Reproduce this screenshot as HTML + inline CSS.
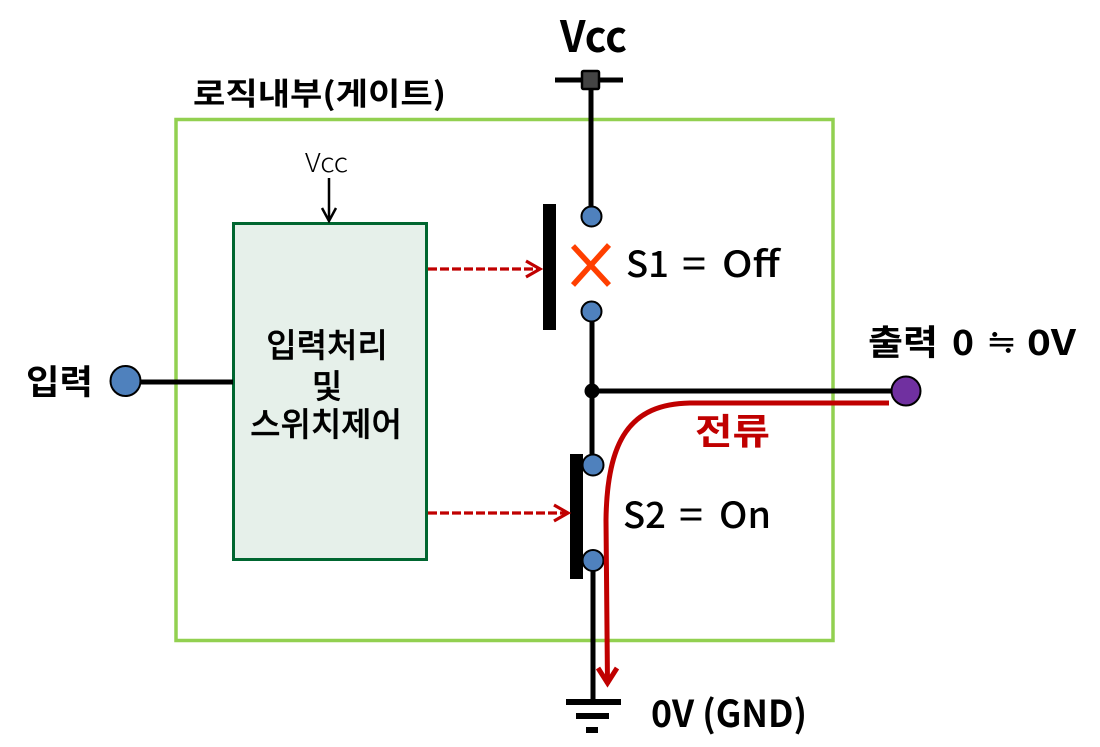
<!DOCTYPE html>
<html><head><meta charset="utf-8"><style>
html,body{margin:0;padding:0;background:#fff;width:1100px;height:747px;overflow:hidden}
svg{display:block}
text{font-family:"Noto Sans CJK KR","NanumGothic","Liberation Sans",sans-serif;fill:#000}
</style></head><body>
<svg width="1100" height="747" viewBox="0 0 1100 747" xmlns="http://www.w3.org/2000/svg">
<rect x="176" y="119.500" width="657" height="521" fill="none" stroke="#92d050" stroke-width="3.500"/>
<rect x="233.500" y="223.500" width="193" height="336" fill="#e6f0ea" stroke="#006630" stroke-width="3"/>
<g stroke="#000" stroke-width="5" fill="none">
<path d="M591 80V206"/><path d="M555 80H623"/><path d="M592 320V456"/><path d="M592 391H892"/><path d="M593 570V702"/><path d="M141 382H233"/>
</g>
<rect x="582" y="71" width="17" height="18" rx="1.500" fill="#444" stroke="#000" stroke-width="2.500"/>
<rect x="566" y="699" width="55" height="6"/><rect x="576" y="713" width="33" height="6"/><rect x="586" y="727" width="12" height="6"/>
<rect x="543" y="204" width="13" height="126"/><rect x="570" y="454" width="13" height="125"/>
<circle cx="592" cy="391" r="7.500"/>
<g fill="#4f81bd" stroke="#000" stroke-width="2">
<circle cx="591.500" cy="216.500" r="10"/><circle cx="591.500" cy="311.500" r="10"/><circle cx="593" cy="465" r="10.500"/><circle cx="593" cy="560.500" r="10.500"/><circle cx="125.500" cy="381" r="15"/>
</g>
<circle cx="906" cy="391" r="14.500" fill="#7030a0" stroke="#000" stroke-width="2"/>
<path d="M573 246L609 285M609 245L573 285" stroke="#ff3f00" stroke-width="5.500" fill="none"/>
<path d="M329 178V221M322 208L329 221L336 208" stroke="#000" stroke-width="2.500" fill="none"/>
<g stroke="#c00000" fill="none" stroke-width="3.200">
<path d="M428 269H538" stroke-dasharray="9 3"/><path d="M526 261L540 269L526 277"/>
<path d="M428 513H566" stroke-dasharray="9 3"/><path d="M554 505L568 513L554 521"/>
</g>
<path d="M889 403H690C630 404 607 440 606 520L607.500 684" stroke="#c00000" stroke-width="5" fill="none"/>
<path d="M598 668L607.500 683L617 668" stroke="#c00000" stroke-width="5" fill="none"/>
<text x="560" y="52" font-size="43" font-weight="700" textLength="67" lengthAdjust="spacingAndGlyphs">Vcc</text>
<text x="193" y="105" font-size="31" font-weight="700" textLength="253" lengthAdjust="spacingAndGlyphs">로직내부(게이트)</text>
<text x="305" y="172" font-size="26" font-weight="300" textLength="43" lengthAdjust="spacingAndGlyphs">Vcc</text>
<g font-size="36" font-weight="500">
<text x="626" y="277" textLength="43" lengthAdjust="spacingAndGlyphs">S1</text>
<text x="682" y="277" textLength="24" lengthAdjust="spacingAndGlyphs">=</text>
<text x="722" y="277" textLength="58" lengthAdjust="spacingAndGlyphs">Off</text>
<text x="623" y="528" textLength="43" lengthAdjust="spacingAndGlyphs">S2</text>
<text x="679" y="528" textLength="24" lengthAdjust="spacingAndGlyphs">=</text>
<text x="719" y="528" textLength="52" lengthAdjust="spacingAndGlyphs">On</text>
</g>
<g font-size="35" font-weight="700">
<text x="868" y="355" textLength="70" lengthAdjust="spacingAndGlyphs">출력</text>
<text x="952" y="355" textLength="22" lengthAdjust="spacingAndGlyphs">0</text>
<text x="988" y="355" textLength="27" lengthAdjust="spacingAndGlyphs">≒</text>
<text x="1027" y="355" textLength="49" lengthAdjust="spacingAndGlyphs">0V</text>
</g>
<text x="695" y="444" font-size="36" font-weight="700" style="fill:#c00000" textLength="75" lengthAdjust="spacingAndGlyphs">전류</text>
<text x="651" y="727" font-size="37" font-weight="700" textLength="156" lengthAdjust="spacingAndGlyphs">0V (GND)</text>
<text x="26" y="394" font-size="34" font-weight="700" textLength="67" lengthAdjust="spacingAndGlyphs">입력</text>
<g font-size="33" font-weight="500" text-anchor="middle" stroke="#000" stroke-width="0.400">
<text x="327" y="357">입력처리</text>
<text x="327" y="398">및</text>
<text x="326" y="436">스위치제어</text>
</g>
</svg>
</body></html>
